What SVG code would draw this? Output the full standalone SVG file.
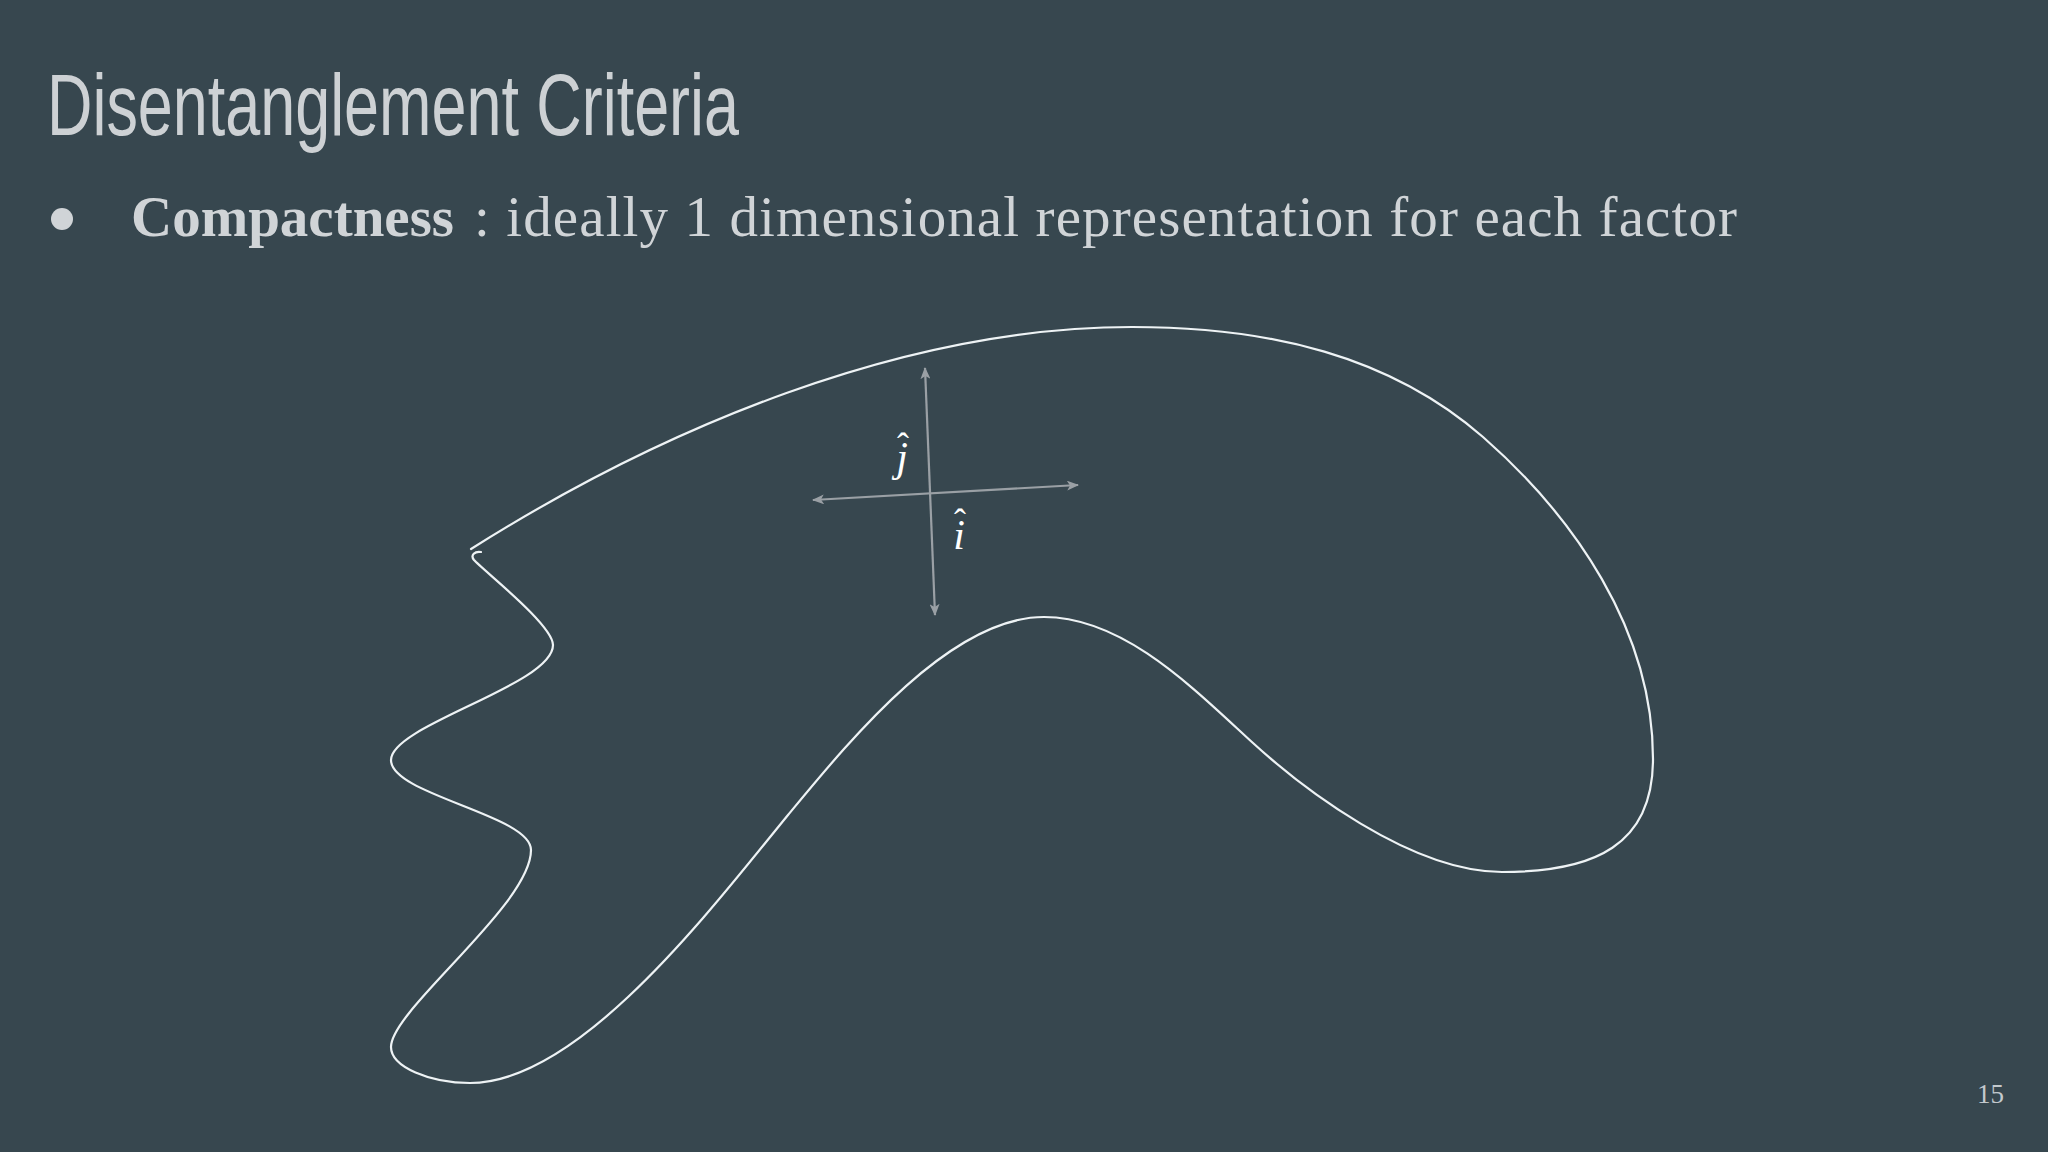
<svg xmlns="http://www.w3.org/2000/svg" width="2048" height="1152" viewBox="0 0 2048 1152">
  <style>
    .title { font-family: "Liberation Sans", Arial, sans-serif; font-size: 88px; fill: #cdd1d4; }
    .body { font-family: "Liberation Serif", "Times New Roman", serif; font-size: 57px; fill: #d0d4d7; }
    .bold { font-weight: bold; }
    .blob { fill: none; stroke: #eef3f5; stroke-width: 2.2; stroke-linecap: round; stroke-linejoin: round; }
    .axis { fill: none; stroke: #9aa0a5; stroke-width: 2.2; }
    .math { font-family: "Liberation Serif", "Times New Roman", serif; font-style: italic; font-size: 42px; fill: #ffffff; }
    .hat { font-style: normal; font-size: 36px; }
    .page { font-family: "Liberation Serif", "Times New Roman", serif; font-size: 27px; fill: #c3c9cd; }
  </style>
  <defs>
    <marker id="arrow" viewBox="0 0 12 10" refX="11" refY="5" markerWidth="12" markerHeight="10" markerUnits="userSpaceOnUse" orient="auto-start-reverse">
      <path d="M0,0 L12,5 L0,10 L3,5 z" fill="#9aa0a5"/>
    </marker>
  </defs>
  <rect x="0" y="0" width="2048" height="1152" fill="#37474f"/>

  <g id="title">
    <text class="title" x="47" y="135" textLength="692" lengthAdjust="spacingAndGlyphs">Disentanglement Criteria</text>
  </g>

  <g id="bullet">
    <circle cx="62" cy="219" r="11" fill="#d0d4d7"/>
    <text class="body bold" x="131" y="236">Compactness</text>
    <text class="body" x="474" y="236" textLength="1263" lengthAdjust="spacing">: ideally 1 dimensional representation for each factor</text>
  </g>

  <g id="manifold">
    <path class="blob" d="M471,549
      C661,429 902,327 1132,327
      C1270,327 1390,356 1483,437
      C1573,516 1653,629 1653,759
      C1653,845 1595,872 1502,872
      C1410,872 1300,786 1253,743
      C1194,689 1124,617 1044,617
      C950,617 850,740 788,815
      C712,908 580,1083 470,1083
      C430,1083 391,1067 391,1047
      C391,1010 531,905 531,850
      C531,815 391,795 391,760
      C391,725 553,685 553,645
      C553,625 484,571 474,560
      C470,555 475,551 481,552"/>
  </g>

  <g id="connectors">
    <line class="axis" x1="935" y1="615" x2="925" y2="368" marker-start="url(#arrow)" marker-end="url(#arrow)"/>
    <line class="axis" x1="813" y1="500" x2="1078" y2="485" marker-start="url(#arrow)" marker-end="url(#arrow)"/>
  </g>

  <g id="label-j">
    <text class="math" text-anchor="middle"><tspan class="hat" x="903" y="458">ˆ</tspan><tspan x="902" y="471">j</tspan></text>
  </g>
  <g id="label-i">
    <text class="math" text-anchor="middle"><tspan class="hat" x="960" y="534">ˆ</tspan><tspan x="959" y="549">i</tspan></text>
  </g>

  <g id="page-number">
    <text class="page" x="2004" y="1103" text-anchor="end">15</text>
  </g>
</svg>
